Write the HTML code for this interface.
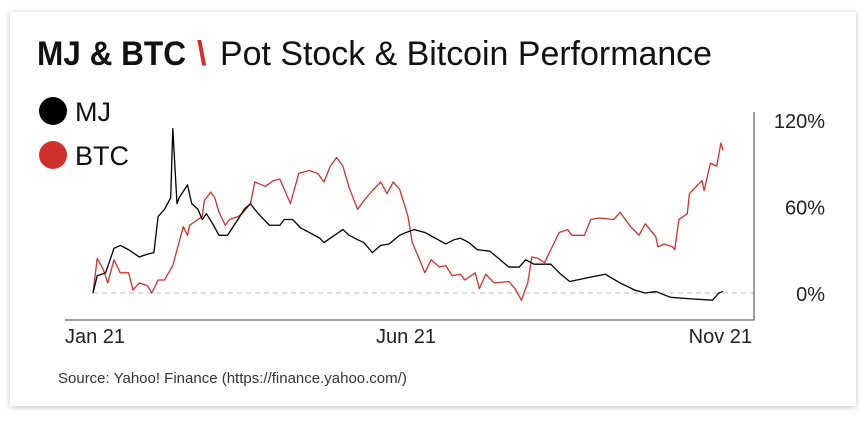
<!DOCTYPE html>
<html><head><meta charset="utf-8"><style>
body{margin:0;background:#fff;width:868px;height:418px;overflow:hidden;font-family:"Liberation Sans",sans-serif}
</style></head><body>
<svg width="868" height="418">
<defs><filter id="sh" x="-5%" y="-5%" width="110%" height="110%"><feDropShadow dx="0" dy="1" stdDeviation="3" flood-color="#000" flood-opacity="0.25"/></filter></defs>
<rect x="10" y="12" width="846" height="394" fill="#fff" filter="url(#sh)"/>
<g>
<text x="37" y="65" font-family="'Liberation Sans Narrow','Liberation Sans',sans-serif" font-weight="bold" font-size="34" textLength="149" lengthAdjust="spacingAndGlyphs" fill="#111">MJ &amp; BTC</text>
<text x="197" y="65" font-family="'Liberation Sans Narrow','Liberation Sans',sans-serif" font-weight="bold" font-size="34" fill="#d0322b">\</text>
<text x="220" y="65" font-family="'Liberation Sans Narrow','Liberation Sans',sans-serif" font-size="34" textLength="492" lengthAdjust="spacingAndGlyphs" fill="#111">Pot Stock &amp; Bitcoin Performance</text>
</g>
<g><circle cx="53" cy="111" r="14" fill="#000"/><text x="75" y="121" font-size="27" fill="#111">MJ</text></g>
<g><circle cx="53" cy="155" r="14" fill="#d0322b"/><text x="75" y="165" font-size="27" fill="#111">BTC</text></g>
<g id="plot"></g>
<text x="58" y="383" font-size="15" fill="#333">Source: Yahoo! Finance (https://finance.yahoo.com/)</text>
</svg>
<script>
const mjDays=[0,2,6,10,13,17,22,26,29,31,34,37,38,40,41,45,47,50,52,54,57,60,64,69,72,75,77,80,84,89,91,95,99,103,108,110,115,119,122,126,129,133,137,141,146,149,153,158,163,168,172,175,179,183,189,198,203,206,210,218,222,227,237,244,251,258,263,268,275,284,295,298,300];
const mjValues=[0,12,14,31,33,30,25,27,28,53,58,66,114,62,66,75,62,58,51,55,48,40,40,51,58,62,58,53,47,47,51,51,45,42,38,35,40,44,40,37,35,28,33,34,40,42,44,42,38,34,37,38,35,30,29,18,18,23,20,20,14,8,11,13,7,2,0,1,-3,-4,-5,0,1];
const btcDays=[0,2,5,7,10,13,17,19,22,26,28,31,34,38,40,43,45,46,50,52,53,56,58,60,63,65,69,71,75,77,82,86,89,94,98,103,107,110,113,116,119,122,126,129,133,137,140,143,146,150,152,155,158,161,165,168,171,175,177,182,184,187,191,198,201,204,207,209,212,215,218,222,226,228,234,237,241,248,251,256,260,263,268,269,272,276,277,279,283,284,290,291,294,297,299,300];
const btcValues=[0,24,16,7,23,14,14,2,7,5,0,9,9,19,30,46,40,47,51,53,64,70,66,56,47,51,53,55,62,77,74,78,79,62,83,85,83,77,88,94,88,73,58,64,71,77,69,77,72,53,35,25,14,23,18,19,12,13,9,14,3,13,7,8,3,-5,7,25,24,21,30,42,44,40,40,51,52,51,56,46,40,48,39,32,34,32,30,51,55,69,78,71,90,88,104,99];
const yTicks=[0,60,120];
const yTickLabels=["0%","60%","120%"];
const xTickDays=[0,150,300];
const xTickLabels=["Jan 21","Jun 21","Nov 21"];
const NS="http://www.w3.org/2000/svg";
const plot=document.getElementById('plot');
const xs=d=>93+d*630/300;
const ys=v=>293-v*(293-120)/120;
function mk(t,a){const e=document.createElementNS(NS,t);for(const k in a)e.setAttribute(k,a[k]);plot.appendChild(e);return e;}
let g=mk('line',{x1:93,x2:754,y1:ys(0),y2:ys(0),stroke:'#bbb','stroke-dasharray':'5,4','stroke-width':1});


let ax=mk('polyline',{points:'65,320 754,320 754,112',fill:'none',stroke:'#666','stroke-width':1.3});


yTicks.forEach((v,i)=>{const t=mk('text',{x:825,y:ys(v)+8,'text-anchor':'end','font-size':20,fill:'#222'});t.textContent=yTickLabels[i];

});
xTickDays.forEach((d,i)=>{const anc=i==0?'start':(i==2?'end':'middle');const x=i==0?65:(i==2?752:xs(d)-2);const t=mk('text',{x:x,y:343,'text-anchor':anc,'font-size':20,fill:'#222'});t.textContent=xTickLabels[i];

});
const bl=mk('polyline',{points:btcDays.map((d,i)=>xs(d)+','+ys(btcValues[i])).join(' '),fill:'none',stroke:'#d0322b','stroke-width':1.3,'stroke-linejoin':'round'});


const ml=mk('polyline',{points:mjDays.map((d,i)=>xs(d)+','+ys(mjValues[i])).join(' '),fill:'none',stroke:'#000','stroke-width':1.3,'stroke-linejoin':'round'});


</script>
</body></html>
